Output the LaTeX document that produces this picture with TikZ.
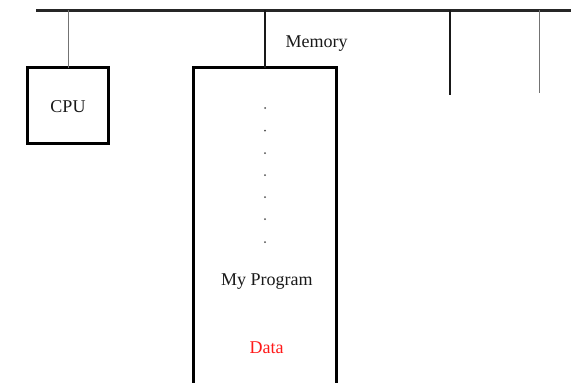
\documentclass[tikz,border=0pt]{standalone}
\usepackage{fontspec}
\setmainfont{Liberation Serif}
\begin{document}
\begin{tikzpicture}[x=1pt,y=1pt,
  box/.style={draw=black,line width=3pt,inner sep=0pt,outer sep=0pt},
  lbl/.style={font=\fontsize{18}{21}\selectfont,text=black!90,inner sep=0pt},
  thinline/.style={draw=black!55,line width=1pt},
  thickline/.style={draw=black!90,line width=2pt},
  dotm/.style={circle,fill=black!70,inner sep=0pt,minimum size=2pt}]
\useasboundingbox (0,0) rectangle (571,-383);
\clip (0,0) rectangle (571,-383);
% bus
\coordinate (busL) at (36,-10);
\coordinate (busR) at (575,-10);
\draw[line width=3pt,draw=black!85] (busL) -- (busR);
% CPU
\node[box,minimum width=81pt,minimum height=76pt] (cpu) at (68,-105.5) {};
\node[lbl] (cputxt) at (68,-106.5) {CPU};
\coordinate (b1) at (68,-10);
\draw[thinline] (b1) -- (cpu.north);
% Memory box
\node[box,minimum width=143pt,minimum height=340pt,anchor=north] (mem) at (264.5,-67.5) {};
\coordinate (b2) at (265,-10);
\draw[thickline] (b2) -- (mem.north -| b2);
\node[lbl] (memlbl) at (316.7,-44) {Memory};
% dots
\foreach \i/\y in {1/-108,2/-130.5,3/-153,4/-175,5/-197,6/-219,7/-242}
  \node[dotm] (d\i) at (265,\y) {};
\node[lbl] (prog) at (266.8,-281.7) {My Program};
\node[lbl,text=red!90!white] (data) at (266.5,-347.5) {Data};
% right drops
\coordinate (b3) at (450,-10);
\coordinate (e3) at (450,-95);
\draw[thickline] (b3) -- (e3);
\coordinate (b4) at (539,-10);
\coordinate (e4) at (539,-93);
\draw[thinline] (b4) -- (e4);
\end{tikzpicture}
\end{document}
